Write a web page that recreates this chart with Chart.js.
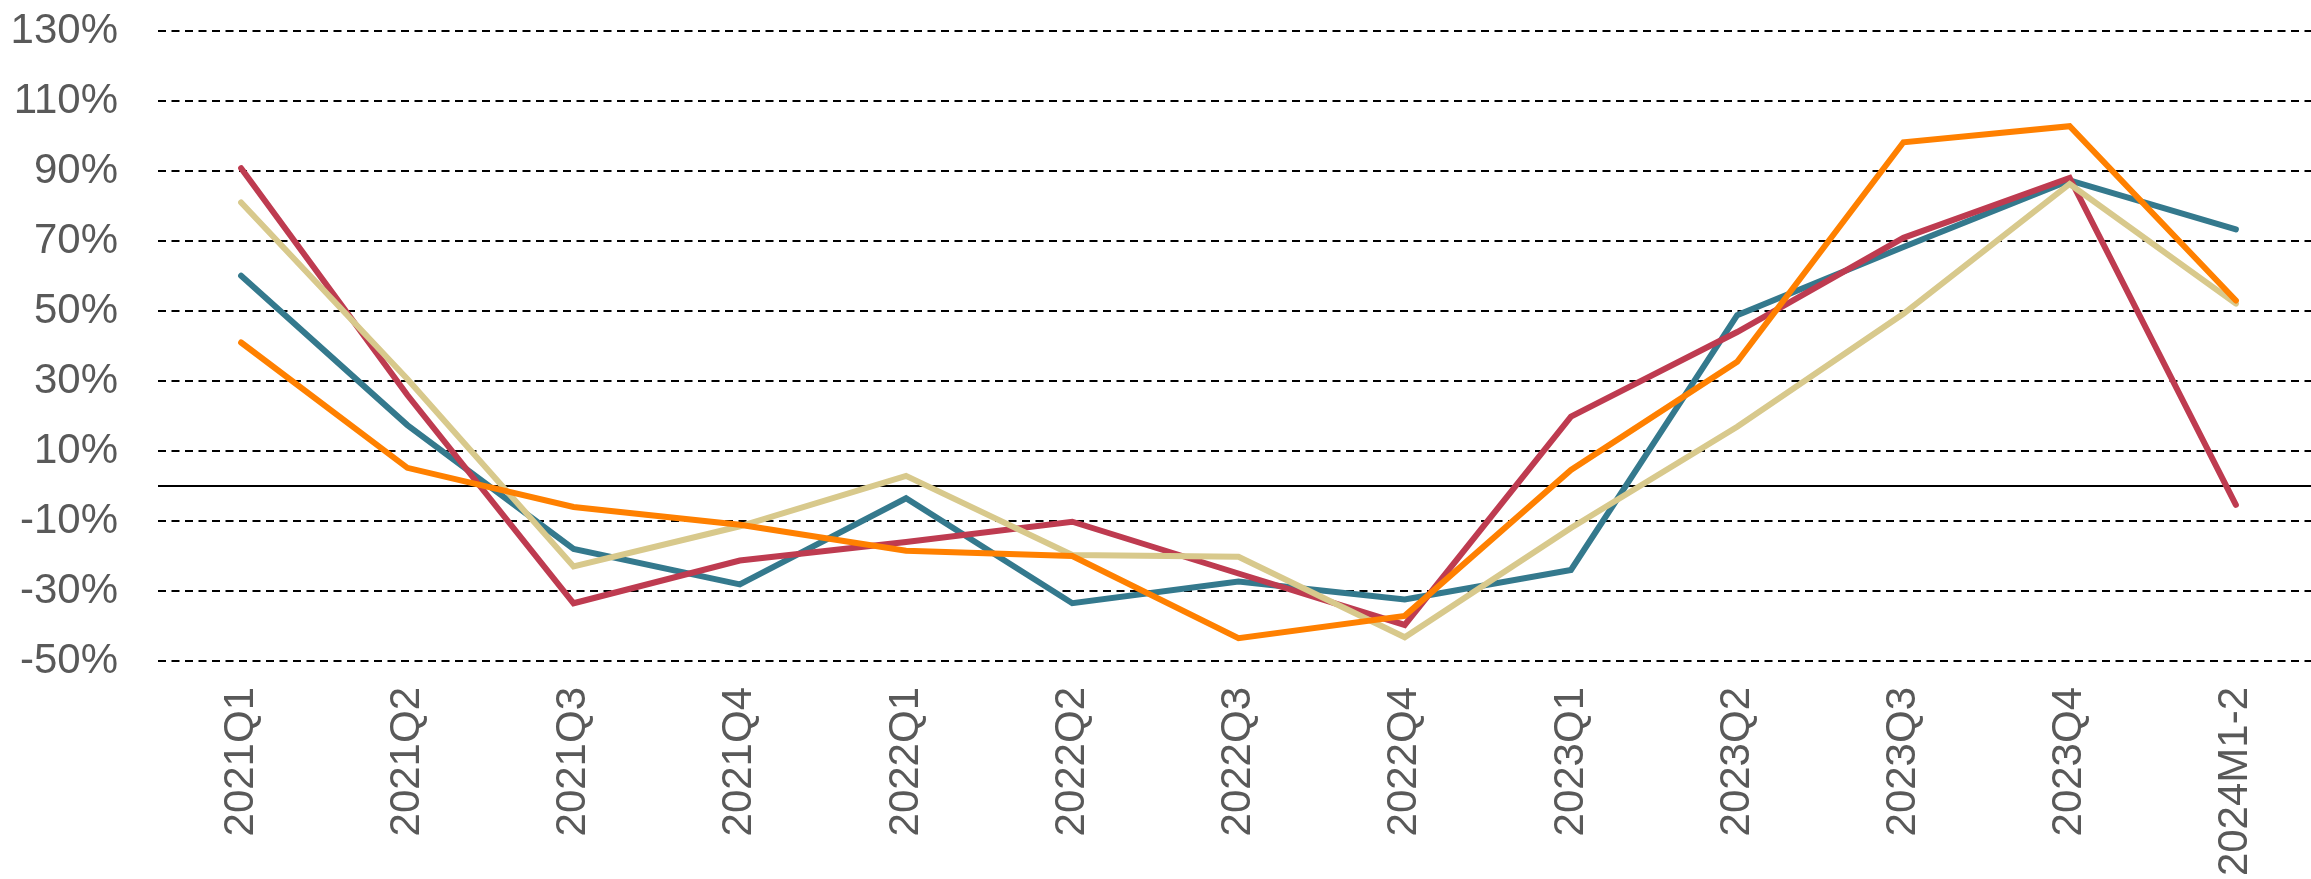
<!doctype html>
<html lang="en">
<head>
    <meta charset="UTF-8">
    <title>Chart</title>
    <script src="https://cdn.jsdelivr.net/npm/chart.js"></script>
    <style>
        body { margin: 0; overflow: hidden; background: #fff; }
    </style>
</head>
<body>
<canvas id="growth" width="2319" height="879"></canvas>
<script>
  const labels = ['2021Q1', '2021Q2', '2021Q3', '2021Q4', '2022Q1', '2022Q2', '2022Q3',
    '2022Q4', '2023Q1', '2023Q2', '2023Q3', '2023Q4', '2024M1-2'];

  const redSeries = [90.8, 26, -33.5, -21.3, -16, -10.2, -25, -39.7, 19.8, 44, 70.9, 88, -5.4];
  const tealSeries = [60.1, 17.4, -18, -28.1, -3.5, -33.5, -27.3, -32.4, -24, 48.8, 68.3, 87.3, 73.3];
  const orangeSeries = [41, 5.2, -6, -11.1, -18.5, -20, -43.5, -37.1, 4.6, 35.5, 98.2, 102.8, 53];
  const tanSeries = [81, 30.6, -23, -11.5, 2.9, -19.7, -20.2, -43.2, -12, 16.9, 49.2, 86.3, 52.1];

  const yMin = -50;
  const yMax = 130;
  const yStep = 20;

  const font = {family: "'Liberation Sans', Arial, sans-serif", size: 42};

  // solid line at 0%, under the series
  const zeroLine = {
    id: 'zeroLine',
    beforeDatasetsDraw(chart) {
      const {ctx, chartArea, scales} = chart;
      const y = scales.y.getPixelForValue(0);
      ctx.save();
      ctx.strokeStyle = '#000';
      ctx.lineWidth = 2;
      ctx.beginPath();
      ctx.moveTo(chartArea.left, y);
      ctx.lineTo(chartArea.right, y);
      ctx.stroke();
      ctx.restore();
    }
  };

  function line(data, color) {
    return {
      data: data,
      borderColor: color,
      backgroundColor: color,
      borderWidth: 6,
      borderCapStyle: 'round',
      borderJoinStyle: 'miter',
      pointRadius: 0,
      tension: 0,
      fill: false
    };
  }

  new Chart(document.getElementById('growth'), {
    type: 'line',
    data: {
      labels: labels,
      datasets: [
        line(orangeSeries, '#FF8000'),
        line(tanSeries, '#D8C98C'),
        line(redSeries, '#BE3B50'),
        line(tealSeries, '#34798D')
      ]
    },
    options: {
      responsive: false,
      animation: false,
      devicePixelRatio: 1,
      layout: {padding: {top: 31, left: 0, right: 0, bottom: 0}},
      plugins: {legend: {display: false}, tooltip: {enabled: false}},
      scales: {
        x: {
          offset: true,
          grid: {display: false, drawTicks: false},
          border: {display: false},
          ticks: {
            font: font,
            color: '#595959',
            minRotation: 90,
            maxRotation: 90,
            padding: 26,
            autoSkip: false
          },
          afterFit(scale) { scale.height = 218; }
        },
        y: {
          min: yMin,
          max: yMax,
          grid: {color: '#000', lineWidth: 2, drawTicks: false},
          border: {display: false, dash: [8, 5.5]},
          ticks: {
            stepSize: yStep,
            font: font,
            color: '#595959',
            padding: 40,
            callback: (v) => v + '%'
          },
          afterFit(scale) {
            scale.width = 158;
            scale.paddingTop = 10;
            scale.paddingBottom = 10;
          }
        }
      }
    },
    plugins: [zeroLine]
  });
</script>
</body>
</html>
